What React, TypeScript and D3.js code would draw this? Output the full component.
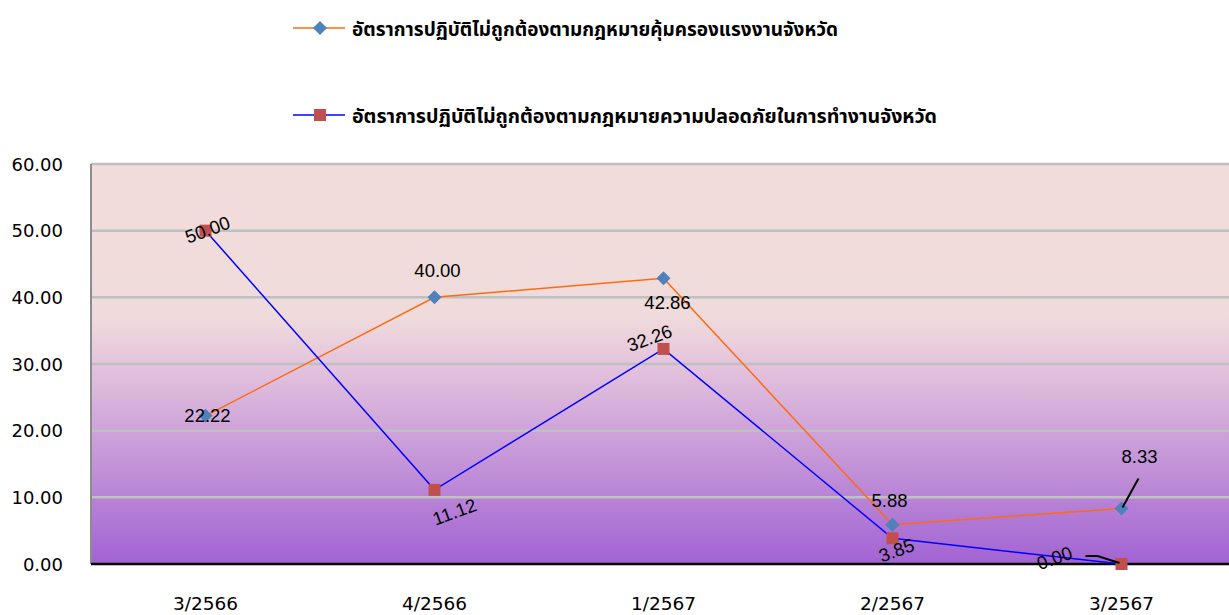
import React from 'react';
import * as d3 from 'd3';

const categories = ['3/2566', '4/2566', '1/2567', '2/2567', '3/2567'];
const laborProtection = [22.22, 40.0, 42.86, 5.88, 8.33];
const workSafety = [50.0, 11.12, 32.26, 3.85, 0.0];
const yTicks = [0, 10, 20, 30, 40, 50, 60];
const seriesNames = [
  'อัตราการปฏิบัติไม่ถูกต้องตามกฎหมายคุ้มครองแรงงานจังหวัด',
  'อัตราการปฏิบัติไม่ถูกต้องตามกฎหมายความปลอดภัยในการทำงานจังหวัด',
];

// label placement: offset from point, rotation
const labelPos1 = [
  { dx: 2, dy: 0, rot: 0 },
  { dx: 3, dy: -27, rot: 0 },
  { dx: 4, dy: 24, rot: 0 },
  { dx: -3, dy: -24, rot: 0 },
  { dx: 18, dy: -52, rot: 0 },
];
const labelPos2 = [
  { dx: 2, dy: -1, rot: -20 },
  { dx: 20, dy: 22, rot: -20 },
  { dx: -14, dy: -11, rot: -20 },
  { dx: 4, dy: 12, rot: -20 },
  { dx: -67, dy: -6, rot: -20 },
];

const W = 1229;
const H = 615;
const plot = { left: 91, right: 1236, top: 164, bottom: 564 };
const thaiFont = "Tahoma, 'Noto Sans Thai', 'Leelawadee UI', 'DejaVu Sans', sans-serif";
const numFont = "'DejaVu Sans', Verdana, sans-serif";
const labelFont = "'Liberation Sans', Arial, sans-serif";

export default function App() {
  const x = d3.scaleBand().domain(categories).range([plot.left, plot.right]);
  const cx = (c: string) => (x(c) ?? 0) + x.bandwidth() / 2;
  const y = d3.scaleLinear().domain([0, 60]).range([plot.bottom, plot.top]);

  const line = d3
    .line<number>()
    .x((_, i) => cx(categories[i]))
    .y((d) => y(d));

  const diamond = d3.symbol().type(d3.symbolDiamond2).size(125)();
  const sq = 12;

  const label = (v: number, i: number, p: { dx: number; dy: number; rot: number }) => {
    const px = cx(categories[i]) + p.dx;
    const py = y(v) + p.dy;
    return (
      <text
        key={i}
        x={px}
        y={py}
        transform={`rotate(${p.rot},${px},${py})`}
        textAnchor="middle"
        dominantBaseline="central"
        fontFamily={labelFont}
        fontSize={18.5}
        fill="#000"
      >
        {v.toFixed(2)}
      </text>
    );
  };

  return (
    <svg
      width={W}
      height={H}
      style={{ position: 'absolute', left: 0, top: 0, background: '#fff' }}
    >
      <defs>
        <linearGradient id="bg" x1="0" y1="0" x2="0" y2="1">
          <stop offset="0" stopColor="#F2DCDB" />
          <stop offset="0.38" stopColor="#F0DBDC" />
          <stop offset="0.5" stopColor="#E4C4DD" />
          <stop offset="1" stopColor="#A263D3" />
        </linearGradient>
      </defs>

      <rect
        x={plot.left}
        y={plot.top}
        width={plot.right - plot.left}
        height={plot.bottom - plot.top}
        fill="url(#bg)"
      />

      {yTicks.map((t) => (
        <g key={t}>
          {t > 0 && (
            <line
              x1={plot.left}
              x2={plot.right}
              y1={y(t)}
              y2={y(t)}
              stroke="#C0C0C0"
              strokeWidth={2.5}
            />
          )}
          <text
            x={63}
            y={y(t)}
            textAnchor="end"
            dominantBaseline="central"
            fontFamily={numFont}
            fontSize={18}
            fill="#000"
          >
            {t.toFixed(2)}
          </text>
        </g>
      ))}

      <line x1={plot.left} x2={plot.left} y1={plot.top} y2={plot.bottom} stroke="#8C8C8C" strokeWidth={2} />
      <line x1={plot.left} x2={plot.right} y1={plot.bottom} y2={plot.bottom} stroke="#000" strokeWidth={2.5} />

      {categories.map((c) => (
        <text
          key={c}
          x={cx(c)}
          y={603}
          textAnchor="middle"
          dominantBaseline="central"
          fontFamily={numFont}
          fontSize={18.5}
          fill="#000"
        >
          {c}
        </text>
      ))}

      <path d={line(laborProtection) ?? ''} fill="none" stroke="#FF6A10" strokeWidth={1.5} />
      <path d={line(workSafety) ?? ''} fill="none" stroke="#0000FF" strokeWidth={1.5} />

      {laborProtection.map((v, i) => (
        <path key={i} d={diamond ?? ''} transform={`translate(${cx(categories[i])},${y(v)})`} fill="#4F81BD" />
      ))}
      {workSafety.map((v, i) => (
        <rect
          key={i}
          x={cx(categories[i]) - sq / 2}
          y={y(v) - sq / 2}
          width={sq}
          height={sq}
          fill="#C0504D"
        />
      ))}

      {/* leader lines */}
      <line
        x1={cx(categories[4]) + 17}
        y1={y(laborProtection[4]) - 30}
        x2={cx(categories[4]) + 1}
        y2={y(laborProtection[4]) - 1}
        stroke="#000"
        strokeWidth={2}
      />
      <polyline
        points={`${cx(categories[4]) - 36},${y(workSafety[4]) - 8} ${cx(categories[4]) - 24},${y(workSafety[4]) - 8} ${cx(categories[4]) - 2},${y(workSafety[4]) - 1}`}
        fill="none"
        stroke="#000"
        strokeWidth={2}
      />

      {laborProtection.map((v, i) => label(v, i, labelPos1[i]))}
      {workSafety.map((v, i) => label(v, i, labelPos2[i]))}

      {/* legend */}
      {seriesNames.map((name, i) => {
        const ly = i === 0 ? 28 : 115;
        return (
          <g key={name}>
            <line x1={293} x2={345} y1={ly} y2={ly} stroke={i === 0 ? '#FF6A10' : '#0000FF'} strokeWidth={1.5} />
            {i === 0 ? (
              <path d={diamond ?? ''} transform={`translate(320,${ly})`} fill="#4F81BD" />
            ) : (
              <rect x={320 - sq / 2} y={ly - sq / 2} width={sq} height={sq} fill="#C0504D" />
            )}
            <text
              x={352}
              y={ly + 2}
              dominantBaseline="central"
              fontFamily={thaiFont}
              fontWeight="bold"
              fontSize={19.5}
              textLength={i === 0 ? 486 : 585}
              lengthAdjust="spacingAndGlyphs"
              fill="#000"
            >
              {name}
            </text>
          </g>
        );
      })}
    </svg>
  );
}
